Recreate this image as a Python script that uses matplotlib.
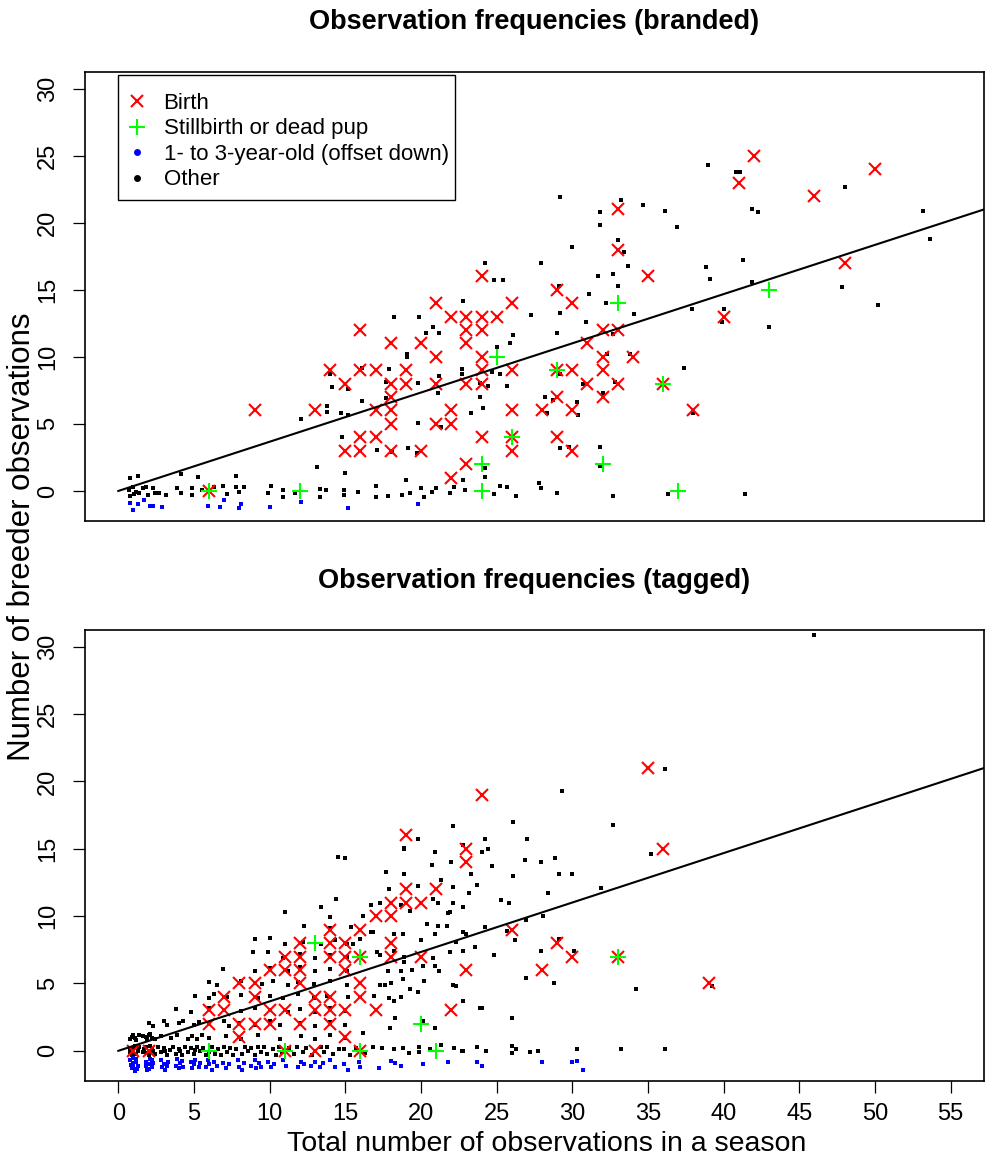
import matplotlib
matplotlib.use("Agg")
import matplotlib.pyplot as plt
from matplotlib import font_manager
from matplotlib.lines import Line2D
from matplotlib.patches import Rectangle


def has_font(name):
    try:
        font_manager.findfont(font_manager.FontProperties(family=name), fallback_to_default=False)
        return True
    except Exception:
        return False


NARROW = "Liberation Sans Narrow" if has_font("Liberation Sans Narrow") else "Liberation Sans"
SANS = "Liberation Sans"

slope = 0.367

# ---------------- branded (top panel) ----------------
birth_top = [(6, 0), (9, 6), (13, 6), (14, 9), (15, 8), (15, 3), (16, 12), (16, 9), (16, 4), (16, 3),
             (17, 9), (17, 6), (17, 4), (18, 11), (18, 8), (18, 7), (18, 6), (18, 5), (18, 3), (19, 9),
             (19, 8), (20, 11), (20, 3), (21, 14), (21, 10), (21, 8), (21, 5), (22, 13), (22, 6), (22, 5),
             (22, 1), (23, 13), (23, 12), (23, 11), (23, 8), (23, 2), (24, 16), (24, 13), (24, 12),
             (24, 10), (24, 9), (24, 8), (24, 4), (25, 13), (26, 14), (26, 9), (26, 6), (26, 4), (26, 3),
             (28, 6), (29, 15), (29, 9), (29, 7), (29, 4), (30, 14), (30, 9), (30, 6), (30, 3), (31, 11),
             (31, 8), (32, 12), (32, 10), (32, 9), (32, 7), (33, 21), (33, 18), (33, 12), (33, 8),
             (34, 10), (35, 16), (36, 8), (38, 6), (40, 13), (41, 23), (42, 25), (46, 22), (48, 17),
             (50, 24)]
still_top = [(6, 0), (12, 0), (24, 2), (24, 0), (25, 10), (26, 4), (29, 9), (32, 2), (33, 14), (36, 8),
             (37, 0), (43, 15)]
young_top = [(0.8, -0.9), (1.0, -1.4), (1.3, -1.0), (1.7, -0.7), (2.1, -1.1), (2.3, -1.1), (2.9, -1.2),
             (5.9, -1.1), (6.7, -1.2), (7.0, -0.7), (8.0, -1.3), (8.1, -1.0), (10.0, -1.2), (12.05, -0.8),
             (15.2, -1.3), (19.8, -1.0)]
other_top = [(0.7, 0.1), (0.75, -0.35), (0.8, 1.0), (0.97, 0.28), (1.05, -0.2), (1.2, -0.05), (1.3, 1.14),
             (1.4, -0.17), (1.6, 0.2), (1.85, 0.32), (1.96, -0.3), (2.3, 0.2), (2.4, -0.17), (2.7, -0.12),
             (3.16, -0.3), (3.9, 0.2), (4.15, 1.24), (4.15, -0.17), (4.85, 0.2), (4.9, -0.3), (5.25, 1.06),
             (5.5, 0.07), (6.3, 0.28), (6.9, 0.4), (7.2, -0.22), (7.8, 1.14), (7.8, 0.28), (8.0, -0.05),
             (8.3, 0.28), (9.9, -0.17), (10.1, 0.4), (10.85, 0.07), (10.9, -0.42), (11.7, -0.17),
             (13.1, 1.76), (13.3, 0.15), (13.3, -0.44), (13.7, 0.07), (14.9, 0.07), (14.9, -0.3),
             (15.0, 1.36), (15.85, -0.1), (17.0, 0.37), (17.0, -0.44), (17.8, -0.35), (18.75, -0.3),
             (19.0, 0.8), (19.3, -0.17), (20.0, 0.25), (20.2, -0.42), (20.7, -0.05), (21.0, 0.25),
             (21.9, -0.17), (22.2, 0.32), (22.8, 0.8), (22.9, 0.07), (24.2, 1.06), (24.2, 1.7),
             (24.8, -0.25), (25.2, 0.4), (25.7, 0.28), (26.3, -0.35), (27.8, 0.62), (27.95, 0.25),
             (28.97, -0.12), (31.8, 1.86), (32.7, -0.35), (36.3, -0.25), (41.4, -0.2),
             (12.06, 5.4), (13.8, 6.3), (13.8, 5.9), (14.0, 8.7), (14.1, 7.75), (14.7, 5.8), (14.8, 4.05),
             (15.2, 7.6), (15.2, 5.65), (16.1, 9.2), (16.1, 6.7), (17.1, 3.05), (17.7, 8.1), (17.7, 6.9),
             (17.9, 9.1), (18.1, 2.9), (18.2, 13.0), (19.1, 10.2), (19.1, 10.0), (19.15, 3.2),
             (19.75, 2.85), (19.8, 8.05), (19.8, 5.1), (19.9, 13.0), (20.35, 11.8), (20.8, 12.2),
             (21.1, 7.3), (21.2, 11.8), (21.2, 8.6), (21.3, 4.8), (22.7, 9.1), (22.7, 8.7), (22.8, 14.2),
             (23.3, 5.8), (23.9, 8.05), (23.9, 7.0), (24.1, 6.2), (24.2, 17.0), (24.4, 7.8), (24.7, 8.9),
             (24.8, 15.7), (25.0, 10.7), (25.2, 8.7), (25.4, 15.7), (25.7, 7.8), (25.9, 11.0),
             (26.1, 11.6), (27.3, 13.1), (27.9, 17.0), (28.2, 7.0), (28.3, 5.85), (28.7, 6.8),
             (29.0, 11.8), (29.1, 15.3), (29.2, 21.9), (29.2, 13.3), (29.2, 8.75), (29.2, 3.2),
             (29.8, 3.3), (30.0, 18.2), (30.3, 6.6), (30.4, 5.7), (30.7, 7.95), (30.9, 12.6),
             (31.1, 14.7), (31.7, 16.06), (31.8, 20.8), (31.8, 19.85), (31.8, 3.3), (32.0, 7.3),
             (32.2, 14.0), (32.3, 10.2), (32.7, 16.2), (32.7, 11.7), (32.8, 8.1), (33.0, 18.7),
             (33.0, 15.3), (33.2, 21.7), (33.4, 17.8), (33.7, 16.8), (33.8, 10.2), (34.06, 13.2),
             (34.7, 21.3), (36.1, 20.9), (36.9, 19.7), (37.4, 9.2), (37.9, 13.6), (37.97, 5.8),
             (38.8, 16.7), (38.95, 24.3), (39.1, 15.8), (39.9, 12.6), (40.0, 13.6), (40.8, 23.8),
             (41.1, 23.8), (41.3, 17.25), (41.9, 21.0), (41.9, 15.6), (42.3, 20.8), (43.0, 12.2),
             (47.8, 15.2), (48.0, 22.7), (50.2, 13.9), (53.2, 20.9), (53.6, 18.8)]

# ---------------- tagged (bottom panel) ----------------
birth_bot = [(1, 0), (2, 0), (6, 2), (6, 3), (7, 3), (7, 4), (8, 1), (8, 2), (8, 5), (9, 2), (9, 4), (9, 5),
             (10, 2), (10, 3), (10, 6), (11, 0), (11, 3), (11, 6), (11, 7), (12, 2), (12, 5), (12, 6),
             (12, 7), (12, 8), (13, 0), (13, 3), (13, 4), (14, 2), (14, 3), (14, 4), (14, 7), (14, 8),
             (14, 9), (15, 1), (15, 3), (15, 6), (15, 7), (15, 8), (16, 0), (16, 4), (16, 5), (16, 7),
             (16, 9), (17, 3), (17, 10), (18, 7), (18, 8), (18, 10), (18, 11), (19, 11), (19, 12),
             (19, 16), (20, 7), (20, 11), (21, 12), (22, 3), (23, 6), (23, 14), (23, 15), (24, 19),
             (26, 9), (28, 6), (29, 8), (30, 7), (33, 7), (35, 21), (36, 15), (39, 5)]
still_bot = [(6, 0), (11, 0), (13, 8), (16, 7), (16, 0), (20, 2), (21, 0), (33, 7)]
young_bot = [(0.8, -0.7), (0.9, -1.3), (1.0, -0.9), (1.1, -1.5), (1.2, -0.6), (1.3, -1.1), (0.85, -1.05),
             (1.0, -1.2), (1.15, -0.8), (1.25, -1.35), (0.95, -0.55),
             (1.8, -0.8), (1.9, -1.4), (2.0, -1.0), (2.1, -0.6), (2.2, -1.2), (2.3, -0.9),
             (1.85, -1.15), (2.05, -1.35), (2.25, -0.7),
             (2.8, -0.7), (2.9, -1.2), (3.0, -1.0), (3.1, -1.4), (3.3, -0.8), (3.2, -1.15),
             (3.8, -1.1), (3.9, -0.6), (4.0, -1.3), (4.1, -0.9), (4.3, -1.2), (4.2, -0.75),
             (4.8, -0.8), (4.9, -1.3), (5.0, -1.0), (5.1, -0.7), (5.3, -1.2), (5.4, -0.9),
             (5.8, -1.2), (5.9, -0.7), (6.0, -1.0), (6.2, -1.4), (6.3, -0.8), (6.5, -1.1),
             (6.9, -0.9), (7.1, -1.3), (7.3, -1.0), (7.9, -0.7), (8.0, -1.2), (8.2, -1.4), (8.3, -0.9),
             (8.8, -1.1), (9.0, -0.7), (9.1, -1.3), (9.3, -0.9), (9.4, -1.2),
             (9.9, -0.8), (10.1, -1.2), (10.3, -1.0), (10.9, -0.7), (11.1, -1.1),
             (11.9, -1.2), (12.1, -0.8), (12.3, -1.0), (12.7, -1.1), (13.0, -0.8), (13.3, -1.2),
             (13.5, -0.9), (14.0, -0.7), (14.3, -1.2), (14.9, -1.0), (15.2, -1.4), (15.9, -0.8),
             (16.0, -1.2), (17.2, -1.3), (18.0, -0.75), (18.3, -0.9), (18.7, -1.1), (20.1, -1.0),
             (21.8, -0.85), (23.7, -0.8), (24.0, -1.1), (28.0, -0.85), (29.95, -0.85), (30.3, -0.75),
             (30.7, -1.4)]
other_bot = [
    # row around 0
    (0.8, 0.2), (0.9, -0.3), (1.0, 0.1), (1.2, -0.2), (1.4, 0.3), (1.6, -0.1), (1.8, 0.25), (2.0, -0.3),
    (2.2, 0.1), (2.4, -0.2), (2.6, 0.3), (2.8, -0.1), (3.0, 0.2), (3.2, -0.3), (3.4, 0.05), (3.6, 0.3),
    (3.8, -0.2), (4.0, 0.15), (4.2, -0.3), (4.4, 0.3), (4.6, -0.1), (4.8, 0.2), (5.0, -0.25), (5.2, 0.3),
    (5.4, -0.05), (5.6, 0.2), (5.8, -0.3), (6.2, 0.25), (6.4, -0.2), (6.6, 0.1), (6.8, -0.3), (7.0, 0.3),
    (7.2, -0.1), (7.4, 0.2), (7.6, -0.3), (7.8, 0.1), (8.2, -0.2), (8.4, 0.3), (8.6, -0.05), (8.8, 0.2),
    (9.0, -0.3), (9.2, 0.25), (9.4, -0.1), (9.6, 0.3), (9.8, -0.25), (10.2, 0.1), (10.4, -0.3),
    (10.6, 0.3), (10.8, -0.1), (11.3, 0.2), (11.6, -0.25), (11.8, 0.3), (12.2, -0.1), (12.4, 0.2),
    (12.8, -0.3), (13.4, 0.3), (13.6, -0.1), (13.8, 0.25), (14.2, -0.2), (14.6, 0.1), (14.9, 0.15),
    (15.3, -0.3), (15.7, 0.2), (16.3, -0.15), (16.8, 0.3), (17.45, 0.2), (18.2, 0.1), (18.8, 0.2),
    (19.2, -0.15), (19.9, 0.27), (19.9, -0.1), (20.6, 0.1), (21.3, 0.45), (22.2, 0.2), (22.7, -0.05),
    (22.8, -0.05), (23.7, 0.27), (24.3, 0.02), (26.0, 0.35), (26.0, -0.15), (26.3, 0.15), (27.2, -0.1),
    (27.7, -0.05), (30.3, 0.15), (33.2, 0.15), (36.1, 0.15),
    (0.75, -0.1), (1.1, 0.35), (1.3, 0.0), (1.7, 0.15), (1.9, -0.15), (2.1, 0.35), (2.3, -0.05),
    (3.1, 0.0), (4.1, -0.05), (5.1, 0.05), (6.0, -0.1),
    # row around 1
    (0.8, 0.9), (1.0, 1.2), (1.2, 0.8), (1.6, 1.1), (1.9, 0.85), (2.1, 1.25), (2.4, 0.9), (2.8, 1.1),
    (3.5, 0.95), (3.9, 1.2), (4.6, 0.85), (4.9, 1.1), (5.2, 0.9), (5.5, 1.2), (6.0, 0.95), (7.1, 1.1),
    (8.1, 0.9), (9.2, 1.15), (10.7, 0.9), (12.1, 1.1), (13.0, 0.85), (14.0, 1.2), (15.0, 0.95),
    (16.2, 1.3), (17.95, 1.7), (20.9, 1.7),
    (0.9, 1.05), (1.1, 0.95), (1.4, 1.2), (1.8, 1.0), (2.2, 0.95), (2.0, 1.15),
    # row around 2
    (2.0, 2.1), (2.3, 1.85), (3.0, 2.2), (3.2, 1.9), (4.0, 2.05), (4.3, 2.25), (5.0, 1.9), (5.3, 2.15),
    (6.0, 2.0), (7.0, 2.2), (7.3, 1.85), (8.0, 2.1), (9.0, 1.9), (10.0, 2.2), (10.7, 1.95), (12.0, 2.1),
    (13.0, 1.85), (14.0, 2.15), (15.0, 1.9), (18.3, 2.4), (20.1, 2.2), (26.0, 2.4),
    # row around 3
    (3.8, 3.1), (4.8, 2.9), (6.0, 3.2), (8.1, 2.95), (9.0, 3.15), (11.2, 2.9), (12.0, 3.1), (13.0, 2.9),
    (14.0, 3.15), (15.0, 2.95), (17.9, 3.9), (18.2, 3.7), (22.8, 3.7), (23.9, 3.2), (24.0, 3.2),
    # row around 4
    (5.1, 4.1), (6.0, 3.9), (6.3, 4.2), (7.2, 4.0), (8.1, 4.15), (9.2, 3.9), (10.0, 4.1), (10.9, 3.95),
    (11.9, 4.2), (12.9, 3.9), (13.8, 4.1), (15.2, 4.0), (16.9, 4.1), (18.7, 4.0), (19.8, 4.4),
    (19.3, 4.6), (22.3, 4.8), (22.1, 4.85), (34.2, 4.6), (39.2, 4.8),
    # row around 5
    (6.0, 5.1), (6.5, 4.9), (8.1, 5.15), (9.5, 4.95), (10.2, 5.2), (11.2, 4.9), (11.9, 5.1), (12.9, 4.95),
    (14.0, 5.15), (15.1, 4.9), (17.3, 4.9), (17.6, 4.85), (18.0, 5.0), (18.8, 5.3), (20.2, 5.2),
    (26.97, 5.4), (28.8, 5.05),
    # row around 6
    (6.9, 6.1), (9.0, 5.9), (10.0, 6.15), (11.2, 5.95), (12.0, 6.2), (13.0, 5.9), (14.0, 6.1),
    (15.1, 5.9), (17.8, 5.9), (18.7, 5.9), (19.4, 6.0), (20.1, 6.3), (20.9, 6.3), (21.2, 5.9),
    (18.9, 6.6),
    # row around 7
    (8.9, 7.3), (9.9, 7.3), (10.9, 6.9), (12.0, 7.2), (13.0, 6.9), (14.0, 7.15), (15.1, 6.95),
    (17.1, 7.3), (17.3, 7.1), (18.2, 7.4), (18.9, 6.95), (20.8, 6.9), (21.9, 7.3), (22.8, 7.4),
    (23.6, 7.7), (24.8, 7.1), (27.9, 7.4), (30.1, 7.4),
    # row around 8
    (9.0, 8.3), (10.0, 8.4), (11.0, 7.9), (12.2, 8.1), (13.4, 7.95), (14.3, 8.2), (15.1, 7.9),
    (16.0, 8.3), (16.8, 8.8), (18.2, 8.7), (18.8, 8.7), (20.0, 8.2), (22.3, 8.1), (23.0, 8.7),
    (20.9, 8.7), (26.2, 8.2), (29.1, 8.3), (22.8, 8.8), (15.5, 7.95),
    # row around 9
    (12.3, 9.3), (14.0, 9.1), (15.4, 9.2), (16.7, 8.8), (20.4, 9.4), (21.1, 9.3), (21.7, 9.3),
    (24.2, 9.2), (25.7, 8.9), (26.97, 9.7), (28.06, 9.98),
    # row around 10-11
    (11.0, 10.3), (13.4, 10.7), (14.0, 9.9), (16.2, 10.0), (19.3, 10.4), (21.8, 10.2), (21.9, 10.3),
    (22.8, 10.7), (16.7, 10.8), (17.3, 11.0), (18.7, 10.8), (20.8, 11.3), (21.1, 11.0), (22.1, 11.0),
    (25.3, 11.2), (25.8, 11.0), (14.4, 11.3),
    # upper scatter
    (17.9, 12.0), (19.8, 12.2), (22.1, 12.15), (23.2, 11.7), (23.7, 12.3), (28.4, 11.7), (31.9, 12.1),
    (17.7, 13.3), (18.9, 13.1), (21.3, 12.65), (23.3, 13.1), (26.1, 13.0), (29.1, 13.1),
    (29.98, 13.1), (20.7, 13.8), (22.0, 14.0), (24.7, 13.7), (26.9, 14.2), (27.9, 14.0),
    (28.85, 14.3), (15.0, 14.3), (14.5, 14.4), (18.9, 15.0), (22.8, 15.3), (24.0, 14.75),
    (24.4, 15.0), (35.2, 14.6), (19.8, 15.7), (24.2, 15.7), (27.0, 15.7), (22.1, 16.7), (26.1, 17.0),
    (32.7, 16.8), (29.3, 19.3), (36.1, 20.9), (46.0, 30.9), (20.9, 14.75), (18.9, 15.05),
]

titles = ["Observation frequencies (branded)", "Observation frequencies (tagged)"]
legend_labels = ["Birth", "Stillbirth or dead pup", "1- to 3-year-old (offset down)", "Other"]
xticks = list(range(0, 60, 5))
yticks = list(range(0, 35, 5))

W, H = 985, 1158
fig = plt.figure(figsize=(W / 100, H / 100), dpi=100)
ax1 = fig.add_axes([85 / W, 1 - 521 / H, 899 / W, 449 / H])
ax2 = fig.add_axes([85 / W, 1 - 1081 / H, 899 / W, 451 / H])


def draw(ax, other, young, birth, still):
    ax.plot([p[0] for p in other], [p[1] for p in other], ls="none", marker="s", ms=2.4,
            mew=0, color="black")
    ax.plot([p[0] for p in young], [p[1] for p in young], ls="none", marker="s", ms=2.4,
            mew=0, color="#0000FF")
    ax.plot([p[0] for p in birth], [p[1] for p in birth], ls="none", marker="x", ms=9,
            mew=1.5, color="#FF0000")
    ax.plot([p[0] for p in still], [p[1] for p in still], ls="none", marker="+", ms=11,
            mew=1.5, color="#00FF00")
    ax.plot([0, 60], [0, 60 * slope], color="black", lw=1.5)
    ax.set_xlim(-2.2, 57.2)
    ax.set_ylim(-2.24, 31.24)
    for s in ax.spines.values():
        s.set_linewidth(1.2)
    ax.set_yticks(yticks)
    ax.set_yticklabels([str(v) for v in yticks], rotation=90, va="center",
                       fontsize=17, family=NARROW)
    ax.tick_params(axis="y", direction="out", length=8.5, width=0.9, pad=10)


draw(ax1, other_top, young_top, birth_top, still_top)
draw(ax2, other_bot, young_bot, birth_bot, still_bot)

ax1.set_xticks([])
ax2.set_xticks(xticks)
ax2.set_xticklabels([str(v) for v in xticks], fontsize=17, family=NARROW)
ax2.tick_params(axis="x", direction="out", length=8.5, width=0.9, pad=7)

# legend box drawn separately so the entries can sit like R's legend()
ax1.add_patch(Rectangle((33 / 899, 1 - 128 / 449), 337 / 899, 125 / 449, transform=ax1.transAxes,
                        facecolor="white", edgecolor="black", lw=1.0, zorder=4))
handles = [
    Line2D([], [], ls="none", marker="x", ms=9, mew=1.5, color="#FF0000"),
    Line2D([], [], ls="none", marker="+", ms=11, mew=1.5, color="#00FF00"),
    Line2D([], [], ls="none", marker="o", ms=5, mew=0, color="#0000FF"),
    Line2D([], [], ls="none", marker="o", ms=5, mew=0, color="black"),
]
leg = ax1.legend(handles, legend_labels, loc="upper left", bbox_to_anchor=(33 / 899, 1 - 11 / 449),
                 borderaxespad=0, frameon=False, prop={"family": SANS, "size": 16},
                 handlelength=0.8, handletextpad=0.8, borderpad=0.45, labelspacing=0.2)
leg.set_zorder(5)

fig.text(534.5 / W, 1 - 22 / H, titles[0], ha="center", va="center", fontsize=19.5,
         fontweight="bold", family=SANS)
fig.text(534.5 / W, 1 - 581 / H, titles[1], ha="center", va="center", fontsize=19.5,
         fontweight="bold", family=SANS)
fig.text(22 / W, 1 - 537 / H, "Number of breeder observations", rotation=90, ha="center",
         va="center", fontsize=22.5, family=NARROW)
fig.text(547 / W, 1 - 1144 / H, "Total number of observations in a season", ha="center",
         va="center", fontsize=20.5, family=NARROW)

fig.savefig("out.png", dpi=100)
